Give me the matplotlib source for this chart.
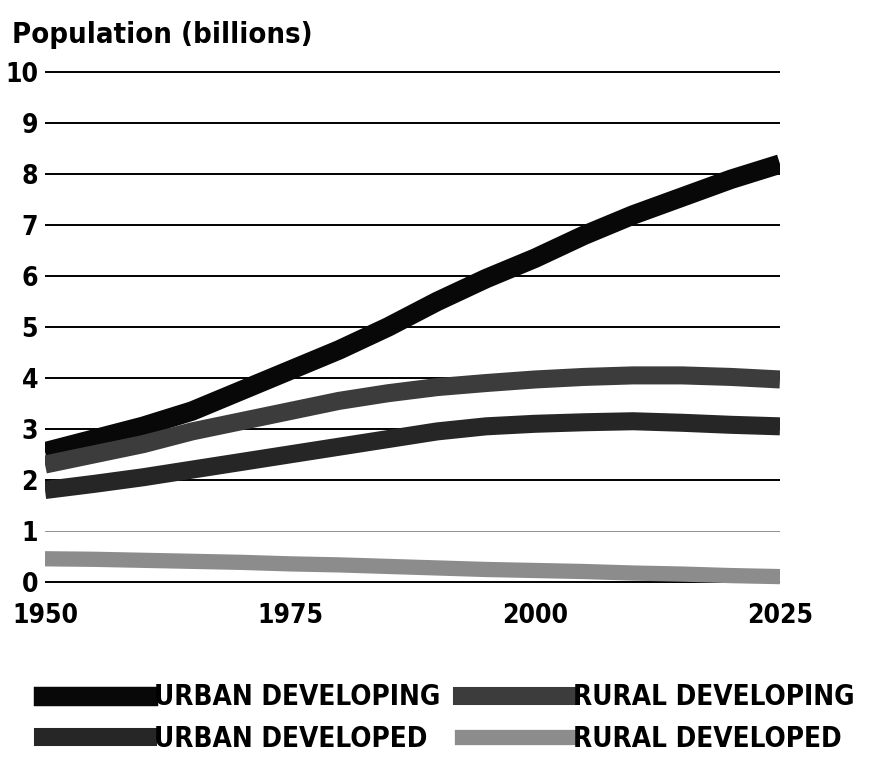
import matplotlib.pyplot as plt
from matplotlib.lines import Line2D

years = [1950, 1955, 1960, 1965, 1970, 1975, 1980, 1985, 1990, 1995, 2000, 2005, 2010, 2015, 2020, 2025]
urban_developing = [2.55, 2.8, 3.05, 3.35, 3.75, 4.15, 4.55, 5.0, 5.5, 5.95, 6.35, 6.8, 7.2, 7.55, 7.9, 8.2]
rural_developing = [2.3, 2.5, 2.7, 2.95, 3.15, 3.35, 3.55, 3.7, 3.82, 3.9, 3.97, 4.02, 4.05, 4.05, 4.02, 3.97]
urban_developed = [1.8, 1.92, 2.05, 2.2, 2.35, 2.5, 2.65, 2.8, 2.95, 3.05, 3.1, 3.13, 3.15, 3.12, 3.08, 3.05]
rural_developed = [0.45, 0.44, 0.42, 0.4, 0.38, 0.35, 0.33, 0.3, 0.27, 0.24, 0.22, 0.2, 0.17, 0.15, 0.12, 0.1]

x_ticks = [1950, 1975, 2000, 2025]
y_ticks = list(range(0, 11))

plt.rcParams['font.family'] = ['DejaVu Sans']
plt.rcParams['font.stretch'] = 'condensed'
plt.rcParams['font.weight'] = 'bold'

fig = plt.figure(figsize=(8.72, 7.70), dpi=100)
ax = fig.add_axes([45 / 872, 0.2247, 735 / 872, 0.688])

# horizontal rules
for v in y_ticks:
    ax.axhline(v, color='black', lw=1.4 if v != 1 else 0.6,
               alpha=1 if v != 1 else 0.5, zorder=1)

lines = [
    (urban_developing, '#080808', 14, 'URBAN DEVELOPING'),
    (rural_developing, '#3c3c3c', 13, 'RURAL DEVELOPING'),
    (urban_developed, '#262626', 13, 'URBAN DEVELOPED'),
    (rural_developed, '#8c8c8c', 11, 'RURAL DEVELOPED'),
]
for vals, col, lw, lab in lines:
    ax.plot(years, vals, color=col, lw=lw, solid_capstyle='butt', zorder=3)

ax.set_xlim(1950, 2025)
ax.set_ylim(-0.3, 10.1)
ax.set_xticks(x_ticks)
ax.set_yticks(y_ticks)
ax.tick_params(length=0, labelsize=19)
ax.tick_params(axis='x', pad=4)
ax.tick_params(axis='y', pad=5)
for s in ax.spines.values():
    s.set_visible(False)

fig.text(0.014, 0.955, 'Population (billions)', fontsize=21, fontweight='bold',
         va='center', ha='left')

handles = [Line2D([], [], color=c, lw=w) for _, c, w, _ in lines]
labels = [l for *_, l in lines]
order = [0, 2, 1, 3]
fig.legend([handles[i] for i in order], [labels[i] for i in order],
           ncol=2, loc='upper left', bbox_to_anchor=(0.036, 0.127),
           borderaxespad=0, frameon=False, fontsize=20, handlelength=3.8,
           handletextpad=0.2, columnspacing=0.8, labelspacing=0.5)

fig.savefig('out.png', dpi=100)
